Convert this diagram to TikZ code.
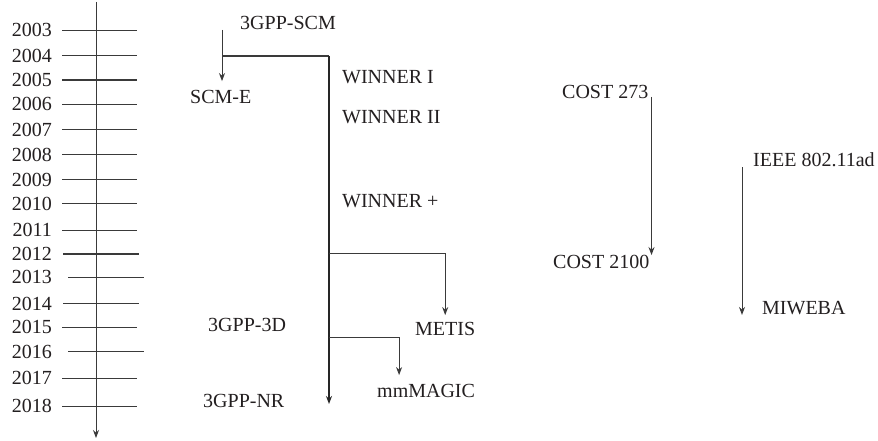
\documentclass[tikz,border=0pt]{standalone}
\usepackage{fontspec}
\setmainfont{Liberation Serif}
\usetikzlibrary{arrows.meta,calc,positioning}
\definecolor{tlink}{HTML}{231F20}
\definecolor{tlline}{HTML}{3A3A3A}

\begin{document}
\begin{tikzpicture}[x=1pt,y=-1pt,>=Stealth,
  font=\fontsize{20}{24}\selectfont,text=tlink,
  lbl/.style={inner sep=0pt,anchor=west},
  yearlbl/.style={inner sep=0pt,anchor=east},
  tick/.style={tlline,line width=1pt},
  thicktick/.style={tlline,line width=2.4pt},
  arr/.style={tlline,line width=1pt,-{Stealth[length=8pt,width=6pt]}},
  stem/.style={black!85,line width=1.8pt,-{Stealth[length=8pt,width=6pt]}}]
\path[use as bounding box] (0,0) rectangle (878,441);
\fill[white] (0,0) rectangle (878,441);
% time axis and years
\coordinate (axtop) at (96,2);
\coordinate (axbot) at (96,438);
\foreach \yr/\y/\l/\r/\s in {2003/30.3/62/137/tick, 2004/56/62/137/tick,
  2005/80.3/62/137/thicktick, 2006/104.3/62/137/tick, 2007/129.7/62/137/tick,
  2008/154.7/62/137/tick, 2009/179.7/62/137/tick, 2010/203.7/62/137/tick,
  2011/230/62/137/tick, 2012/253.7/63/139/thicktick, 2013/277/68/144/tick,
  2014/303.7/63/139/tick, 2015/327.3/62/137/tick, 2016/351.7/68/144/tick,
  2017/378.3/62/137/tick, 2018/406/62/137/tick}{
  \node[yearlbl] (y\yr) at (52,\y) {\yr};
  \draw[\s] (\l,\y) -- (\r,\y);
}
\draw[arr] (axtop) -- (axbot);
% channel models
\node[lbl] (gppscm) at (240,23) {3GPP-SCM};
\node[lbl] (scme) at (190,97) {SCM-E};
\node[lbl] (win1) at (342,77) {WINNER I};
\node[lbl] (win2) at (342,117) {WINNER II};
\node[lbl] (winp) at (342,201) {WINNER +};
\node[lbl] (gpp3d) at (208,325) {3GPP-3D};
\node[lbl] (gppnr) at (203,401) {3GPP-NR};
\node[lbl] (metis) at (415,329) {METIS};
\node[lbl] (mmmagic) at (377,391) {mmMAGIC};
\node[lbl] (cost273) at (562,92) {COST 273};
\node[lbl] (cost2100) at (553,262) {COST 2100};
\node[lbl] (ieee) at (753,160) {IEEE 802.11ad};
\node[lbl] (miweba) at (762,308) {MIWEBA};
% branches
\coordinate (scmtop) at (222,30);
\coordinate (stemtop) at (329,56);
\coordinate (stembot) at (329,404);
\coordinate (metisfork) at (329,253);
\coordinate (magicfork) at (329,337);
\draw[arr,shorten >=9pt] (scmtop) -- (scmtop |- scme.north);
\draw[tlline,line width=1.2pt] (scmtop |- stemtop) -- (stemtop);
\draw[stem] (stemtop) -- (stembot);
\draw[arr,shorten >=7pt] (metisfork) -| (metis.north);
\draw[arr,shorten >=9pt] (magicfork) -| ([xshift=-27pt]mmmagic.north);
\draw[arr] ([xshift=3pt,yshift=-5pt]cost273.east) coordinate (coststart) -- (coststart |- cost2100.north);
\draw[arr] ([xshift=-11pt]ieee.south west) coordinate (ieeestart) -- (ieeestart |- miweba.south);
\end{tikzpicture}
\end{document}
